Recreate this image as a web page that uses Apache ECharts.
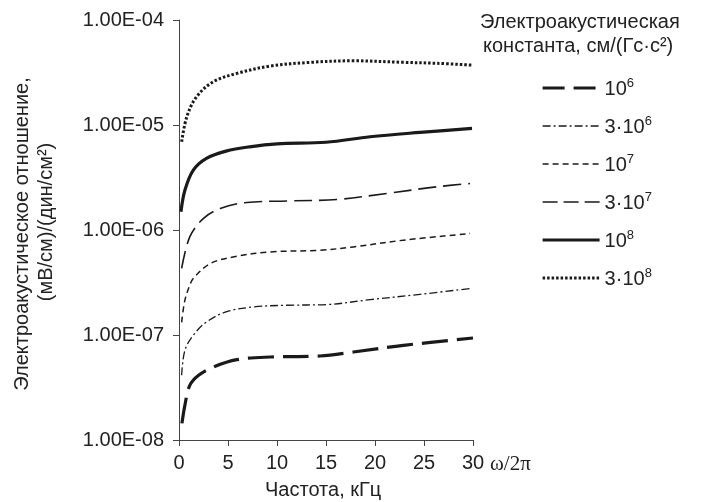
<!DOCTYPE html>
<html><head><meta charset="utf-8">
<script src="https://cdn.jsdelivr.net/npm/echarts@6/dist/echarts.min.js"></script>
<style>html,body{margin:0;padding:0;background:#fff}#c{width:704px;height:502px}</style>
</head><body><div id="c"></div>
<script>
// Series names (legend labels): base and exponent
var seriesNames = ['10^6', '3·10^6', '10^7', '3·10^7', '10^8', '3·10^8'];

// Frequency (kHz) points and values for each electroacoustic constant
var x_1e6 = [0.3, 0.6, 1.1, 2.0, 3.5, 5.9, 9.3, 14.4, 17.8, 22.9, 30];
var y_1e6 = [1.44e-8, 2.14e-8, 3.31e-8, 4.13e-8, 4.95e-8, 5.82e-8, 6.17e-8, 6.31e-8, 6.89e-8, 7.97e-8, 9.36e-8];

var x_3e6 = [0.27, 0.6, 1.45, 2.8, 4.8, 7.6, 11, 15.1, 19.5, 24.6, 29.7];
var y_3e6 = [4.13e-8, 7.15e-8, 9.93e-8, 1.33e-7, 1.66e-7, 1.85e-7, 1.92e-7, 1.95e-7, 2.17e-7, 2.44e-7, 2.77e-7];

var x_1e7 = [0.27, 0.6, 1.1, 1.45, 3.2, 5.9, 9.3, 14.4, 17.8, 22.9, 29.7];
var y_1e7 = [1.32e-7, 2.14e-7, 2.98e-7, 3.45e-7, 4.80e-7, 5.62e-7, 6.18e-7, 6.42e-7, 6.90e-7, 8.0e-7, 9.25e-7];

var x_3e7 = [0.27, 1.1, 2.5, 4.2, 6.9, 11, 16.1, 21.2, 26.3, 29.7];
var y_3e7 = [4.30e-7, 8.6e-7, 1.29e-6, 1.60e-6, 1.83e-6, 1.89e-6, 1.95e-6, 2.23e-6, 2.58e-6, 2.77e-6];

var x_1e8 = [0.2, 0.6, 1.46, 2.8, 4.8, 7.2, 10, 15, 19.5, 24.6, 29.9];
var y_1e8 = [1.49e-6, 2.39e-6, 3.72e-6, 4.81e-6, 5.64e-6, 6.20e-6, 6.62e-6, 6.85e-6, 7.73e-6, 8.50e-6, 9.27e-6];

var x_3e8 = [0.27, 0.8, 1.8, 3.5, 5.9, 9.3, 13.4, 17.8, 22.9, 26.3, 29.9];
var y_3e8 = [6.92e-6, 1.20e-5, 1.86e-5, 2.58e-5, 3.10e-5, 3.64e-5, 3.95e-5, 4.09e-5, 3.95e-5, 3.87e-5, 3.72e-5];

var xTicks = [0, 5, 10, 15, 20, 25, 30];
var yTickLabels = ['1.00E-08', '1.00E-07', '1.00E-06', '1.00E-05', '1.00E-04'];

function zip(xs, ys) { return xs.map(function (x, i) { return [x, ys[i]]; }); }

var dataSets = [zip(x_1e6, y_1e6), zip(x_3e6, y_3e6), zip(x_1e7, y_1e7), zip(x_3e7, y_3e7), zip(x_1e8, y_1e8), zip(x_3e8, y_3e8)];
var styles = [
  { width: 3.2, type: [26, 9], legType: [22, 9] },
  { width: 1.3, type: [8, 3, 2, 3], legType: [8, 3, 2, 3] },
  { width: 1.5, type: [6, 4], legType: [6, 4] },
  { width: 1.6, type: [18, 7], legType: [15, 6] },
  { width: 3.2, type: 'solid', legType: 'solid' },
  { width: 3, type: [2.5, 2], legType: [2.5, 2] }
];
var INK = '#1a1a1a';
var FONT = '"Liberation Sans", Arial, sans-serif';

var series = seriesNames.map(function (n, i) {
  return {
    name: n, type: 'line', data: dataSets[i], symbol: 'none', smooth: 0.35,
    lineStyle: { color: INK, width: styles[i].width, type: styles[i].type, cap: 'butt' },
    itemStyle: { color: INK }
  };
});

var legendData = seriesNames.map(function (n, i) {
  return { name: n, lineStyle: { color: INK, width: styles[i].width, type: styles[i].legType, cap: 'butt' } };
});

var chart = echarts.init(document.getElementById('c'), null, { renderer: 'canvas' });
chart.setOption({
  animation: false,
  backgroundColor: '#fff',
  grid: { left: 179, top: 20, right: 231, bottom: 62 },
  xAxis: {
    type: 'value', min: 0, max: 30, interval: 5,
    axisLine: { lineStyle: { color: '#444', width: 1 } },
    axisTick: { length: 6, lineStyle: { color: '#444' } },
    axisLabel: { color: '#222', fontSize: 20, fontFamily: FONT, margin: 13,
      formatter: function (v) { return xTicks.indexOf(v) >= 0 ? String(v) : ''; } },
    splitLine: { show: false }
  },
  yAxis: {
    type: 'log', logBase: 10, min: 1e-8, max: 1e-4,
    axisLine: { show: true, lineStyle: { color: '#444', width: 1 } },
    axisTick: { show: true, length: 6, lineStyle: { color: '#444' } },
    minorTick: { show: false },
    axisLabel: { color: '#222', fontSize: 20, fontFamily: FONT, margin: 15,
      formatter: function (v) { var e = Math.round(Math.log10(v)); return yTickLabels[e + 8] || ''; } },
    splitLine: { show: false }
  },
  legend: {
    orient: 'vertical', left: 536, top: 72, itemWidth: 57, itemHeight: 14, itemGap: 16,
    data: legendData,
    itemStyle: { opacity: 0, borderWidth: 0 },
    formatter: function (n) {
      var p = n.split('^');
      return '{b|' + p[0] + '}{s|' + p[1] + '}';
    },
    textStyle: {
      color: '#222', fontFamily: FONT,
      rich: {
        b: { fontSize: 20, fontFamily: FONT, color: '#222', lineHeight: 22, verticalAlign: 'bottom' },
        s: { fontSize: 13, fontFamily: FONT, color: '#222', lineHeight: 22, verticalAlign: 'top' }
      }
    }
  },
  graphic: [
    { type: 'text', left: 480, top: 12, style: { text: 'Электроакустическая', font: '20px ' + FONT, fill: '#222' } },
    { type: 'text', left: 483, top: 36, style: { text: 'константа, см/(Гс·с²)', font: '20px ' + FONT, fill: '#222' } },
    { type: 'text', left: 490, top: 454, style: { text: 'ω/2π', font: '21px "Liberation Serif", "Times New Roman", serif', fill: '#222' } },
    { type: 'text', left: 265, top: 480, style: { text: 'Частота, кГц', font: '20px ' + FONT, fill: '#222' } },
    { type: 'text', x: 22, y: 234, rotation: Math.PI / 2, style: { text: 'Электроакустическое отношение,', font: '20px ' + FONT, fill: '#222', align: 'center', verticalAlign: 'middle' } },
    { type: 'text', x: 46, y: 222, rotation: Math.PI / 2, style: { text: '(мВ/см)/(дин/см²)', font: '20px ' + FONT, fill: '#222', align: 'center', verticalAlign: 'middle' } }
  ],
  series: series
});
</script></body></html>
